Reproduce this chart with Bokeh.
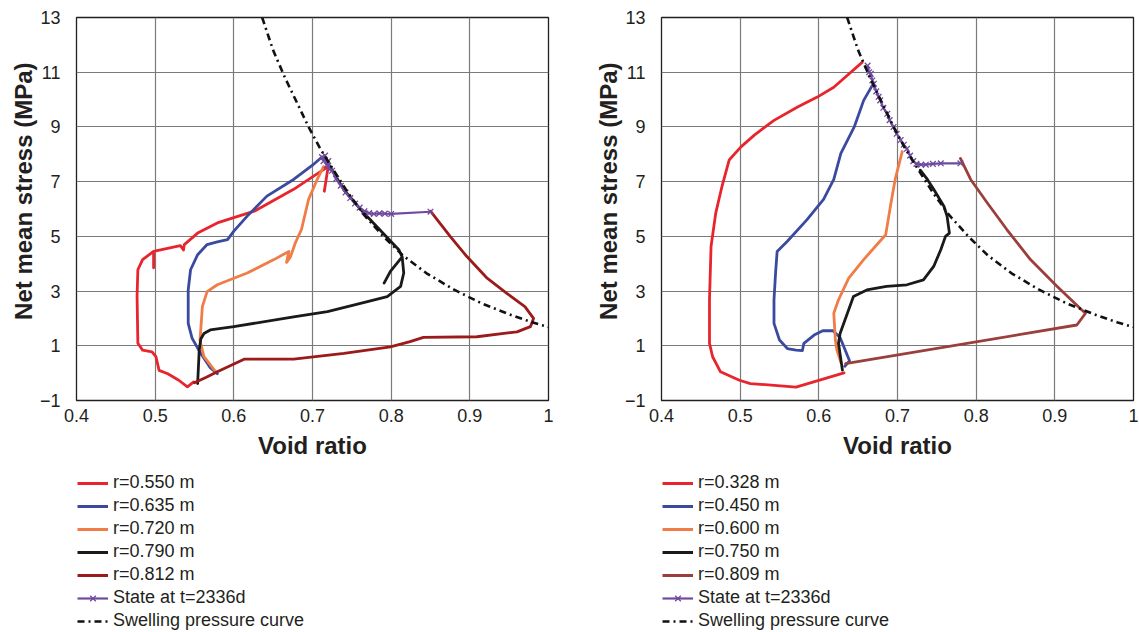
from bokeh.plotting import figure
from bokeh.layouts import row, column
from bokeh.models import Legend, LegendItem, Range1d, Title
from bokeh.embed import file_html
from bokeh.resources import INLINE

FONT = "Liberation Sans"
TXT = "#231f20"
NAN = float("nan")

# ---- axes ----
X_TICKS = [0.4, 0.5, 0.6, 0.7, 0.8, 0.9, 1.0]
X_TICK_LABELS = ["0.4", "0.5", "0.6", "0.7", "0.8", "0.9", "1"]
Y_TICKS = [-1, 1, 3, 5, 7, 9, 11, 13]
Y_TICK_LABELS = ["\u22121", "1", "3", "5", "7", "9", "11", "13"]
X_LABEL = "Void ratio"
Y_LABEL = "Net mean stress (MPa)"

# ---- swelling pressure curve (shared) ----
SW_E = [0.636, 0.650, 0.665, 0.680, 0.695, 0.710, 0.725, 0.745, 0.765, 0.790,
        0.815, 0.845, 0.880, 0.915, 0.950, 0.980, 1.010]
SW_P = [13.0, 11.8, 10.8, 9.9, 9.0, 8.2, 7.5, 6.6, 5.8, 5.0,
        4.3, 3.65, 3.05, 2.55, 2.15, 1.85, 1.6]

# ---- left panel ----
L_LABELS = ["r=0.550 m", "r=0.635 m", "r=0.720 m", "r=0.790 m", "r=0.812 m"]
L_COLORS = ["#e8252d", "#3a4a9f", "#f07d47", "#1a1a1a", "#9b1a1a"]

L_R550_E = [0.549, 0.541, 0.530, 0.516, 0.505, 0.501, 0.496, 0.484, 0.478, 0.477, 0.478, 0.484,
            0.498, 0.498, 0.498, 0.532, 0.536, 0.537, 0.554, 0.579, 0.626, 0.676, 0.712, 0.720,
            0.718, 0.715]
L_R550_P = [-0.32, -0.50, -0.26, -0.02, 0.10, 0.60, 0.78, 0.84, 1.09, 2.80, 3.78, 4.15,
            4.45, 3.85, 4.45, 4.66, 4.50, 4.70, 5.12, 5.49, 5.92, 6.72, 7.40, 7.55,
            7.20, 6.65]

L_R635_E = [0.579, 0.570, 0.558, 0.547, 0.542, 0.542, 0.545, 0.554, 0.566, 0.579, 0.592, 0.600,
            0.617, 0.642, 0.676, 0.700, 0.712]
L_R635_P = [-0.02, 0.20, 0.72, 1.27, 1.82, 3.04, 3.78, 4.33, 4.70, 4.80, 4.88, 5.19,
            5.74, 6.47, 7.08, 7.60, 7.90]

L_R720_E = [0.577, 0.562, 0.557, 0.560, 0.566, 0.579, 0.617, 0.651, 0.670, 0.667, 0.672, 0.678,
            0.686, 0.695, 0.706, 0.714]
L_R720_P = [0.05, 0.60, 1.20, 2.43, 2.98, 3.23, 3.66, 4.15, 4.45, 4.05, 4.25, 4.75,
            5.25, 6.35, 7.08, 7.55]

L_R790_E = [0.718, 0.740, 0.765, 0.810, 0.814, 0.799, 0.791, 0.799, 0.814, 0.816, 0.812, 0.795,
            0.761, 0.719, 0.676, 0.600, 0.570, 0.562, 0.558, 0.556, 0.554]
L_R790_P = [7.75, 6.70, 5.86, 4.50, 4.25, 3.72, 3.29, 3.72, 4.25, 3.66, 3.17, 2.80,
            2.55, 2.25, 2.06, 1.70, 1.58, 1.45, 1.25, 0.84, -0.38]

L_R812_E = [0.550, 0.565, 0.579, 0.613, 0.676, 0.740, 0.799, 0.824, 0.841, 0.909, 0.960, 0.977,
            0.981, 0.970, 0.947, 0.922, 0.896, 0.875, 0.850]
L_R812_P = [-0.35, -0.15, 0.05, 0.51, 0.51, 0.72, 0.96, 1.15, 1.31, 1.33, 1.51, 1.70,
            2.00, 2.43, 2.92, 3.47, 4.27, 5.00, 5.92]

L_STATE_E = [0.712, 0.714, 0.716, 0.718, 0.720, 0.722, 0.725, 0.730, 0.736, 0.742, 0.748, 0.754,
             0.760, 0.766, 0.772, 0.778, 0.785, 0.792, 0.800, 0.850]
L_STATE_P = [7.90, 7.75, 7.95, 7.60, 7.75, 7.45, 7.40, 7.10, 6.85, 6.60, 6.40, 6.20,
             6.05, 5.92, 5.85, 5.82, 5.84, 5.83, 5.82, 5.90]

# ---- right panel ----
R_LABELS = ["r=0.328 m", "r=0.450 m", "r=0.600 m", "r=0.750 m", "r=0.809 m"]
R_COLORS = ["#e8252d", "#3a4a9f", "#f07d47", "#1a1a1a", "#9a3f3b"]

R_R328_E = [0.632, 0.571, 0.513, 0.499, 0.475, 0.465, 0.461, 0.461, 0.463, 0.469, 0.477, 0.486,
            0.501, 0.518, 0.543, 0.573, 0.598, 0.619, 0.636, 0.655]
R_R328_P = [0.01, -0.51, -0.38, -0.26, 0.05, 0.60, 1.09, 2.68, 4.64, 5.86, 6.84, 7.79,
            8.27, 8.70, 9.24, 9.73, 10.09, 10.45, 10.88, 11.36]

R_R450_E = [0.633, 0.639, 0.627, 0.618, 0.605, 0.594, 0.581, 0.579, 0.571, 0.560, 0.550, 0.543,
            0.543, 0.545, 0.547, 0.560, 0.585, 0.606, 0.619, 0.628, 0.645, 0.657, 0.668]
R_R450_P = [0.25, 0.45, 1.30, 1.55, 1.55, 1.39, 1.09, 0.82, 0.84, 0.90, 1.21, 1.82,
            2.68, 3.66, 4.45, 4.82, 5.61, 6.35, 7.08, 8.03, 9.00, 9.97, 10.52]

R_R600_E = [0.628, 0.623, 0.621, 0.619, 0.625, 0.638, 0.657, 0.672, 0.685, 0.691, 0.697, 0.706]
R_R600_P = [0.40, 0.84, 1.21, 2.19, 2.68, 3.47, 4.15, 4.64, 5.06, 6.10, 7.08, 8.10]

R_R750_E = [0.630, 0.625, 0.627, 0.644, 0.661, 0.686, 0.712, 0.733, 0.746, 0.755, 0.761, 0.766,
            0.763, 0.759, 0.746, 0.738, 0.729]
R_R750_P = [0.11, 1.09, 1.45, 2.80, 3.04, 3.17, 3.23, 3.41, 3.90, 4.51, 5.00, 5.12,
            5.74, 6.10, 6.72, 7.08, 7.42]

R_R809_E = [0.634, 0.928, 0.939, 0.932, 0.903, 0.869, 0.839, 0.814, 0.793, 0.780]
R_R809_P = [0.35, 1.76, 2.19, 2.37, 3.17, 4.15, 5.25, 6.23, 7.08, 7.85]

R_STATE_E = [0.662, 0.664, 0.666, 0.668, 0.670, 0.673, 0.676, 0.678, 0.682, 0.687, 0.690, 0.695,
             0.699, 0.704, 0.708, 0.712, 0.716, 0.720, 0.724, 0.730, 0.736, 0.745, 0.755, 0.780]
R_STATE_P = [11.24, 11.00, 10.94, 10.70, 10.58, 10.30, 10.10, 9.97, 9.70, 9.48, 9.25, 9.00,
             8.75, 8.52, 8.35, 8.20, 7.95, 7.75, 7.65, 7.62, 7.62, 7.65, 7.67, 7.67]

STATE_LABEL = "State at t=2336d"
SWELL_LABEL = "Swelling pressure curve"
STATE_COLOR = "#6f4a9e"
SWELL_COLOR = "#111111"
SWELL_DASH = "7 4 2 4"

PLOT_H = 466
LEG_H = 632 - PLOT_H


def build(curves, colors, st_e, st_p, width, border_right):
    p = figure(width=width, height=PLOT_H, x_range=(0.4, 1.0), y_range=(-1, 13),
               output_backend="svg", toolbar_location=None,
               min_border_left=76, min_border_right=border_right,
               min_border_top=17, min_border_bottom=PLOT_H - 400)
    p.background_fill_color = "white"
    p.border_fill_color = "white"
    p.outline_line_color = TXT
    p.outline_line_width = 1.3

    p.xaxis.ticker = X_TICKS
    p.xaxis.major_label_overrides = dict(zip(X_TICKS, X_TICK_LABELS))
    p.yaxis.ticker = Y_TICKS
    p.yaxis.major_label_overrides = dict(zip(Y_TICKS, Y_TICK_LABELS))
    for ax in (p.xaxis[0], p.yaxis[0]):
        ax.axis_line_color = None
        ax.major_tick_line_color = None
        ax.minor_tick_line_color = None
        ax.major_label_text_font = FONT
        ax.major_label_text_font_size = "18px"
        ax.major_label_text_color = TXT
        ax.axis_label_text_font = FONT
        ax.axis_label_text_font_size = "24px"
        ax.axis_label_text_font_style = "bold"
        ax.axis_label_text_color = TXT
    p.xaxis.axis_label = X_LABEL
    p.xaxis.major_label_standoff = 2
    p.xaxis.axis_label_standoff = 7
    p.yaxis.major_label_standoff = 10
    ytitle = Title(text=Y_LABEL, align="right", offset=45, standoff=0,
                   text_font=FONT, text_font_size="24px", text_font_style="bold",
                   text_color=TXT)
    p.add_layout(ytitle, "left")
    for g in (p.xgrid[0], p.ygrid[0]):
        g.grid_line_color = "#7a7a7a"
        g.grid_line_width = 1.2

    for (e, s), col in zip(curves, colors):
        p.line(e, s, line_color=col, line_width=2.8, line_join="round", line_cap="round")
    p.line(st_e, st_p, line_color=STATE_COLOR, line_width=2.2)
    p.scatter(st_e, st_p, marker="x", size=8, line_color=STATE_COLOR, line_width=1.3)
    p.line(SW_E, SW_P, line_color=SWELL_COLOR, line_width=2.6, line_dash=SWELL_DASH)
    return p


def legend_fig(labels, colors, width):
    f = figure(width=width, height=LEG_H, x_range=Range1d(0, 1), y_range=Range1d(0, 1),
               output_backend="svg", toolbar_location=None,
               x_axis_type=None, y_axis_type=None,
               min_border=0, min_border_left=0, min_border_right=0,
               min_border_top=0, min_border_bottom=0)
    f.outline_line_color = None
    f.xgrid.visible = False
    f.ygrid.visible = False
    items = []
    for lab, col in zip(labels, colors):
        r = f.line([NAN], [NAN], line_color=col, line_width=3)
        items.append(LegendItem(label=lab, renderers=[r]))
    sl = f.line([NAN], [NAN], line_color=STATE_COLOR, line_width=2.2)
    ss = f.scatter([NAN], [NAN], marker="x", size=8, line_color=STATE_COLOR, line_width=1.3)
    items.append(LegendItem(label=STATE_LABEL, renderers=[sl, ss]))
    sw = f.line([NAN], [NAN], line_color=SWELL_COLOR, line_width=2.6, line_dash=SWELL_DASH)
    items.append(LegendItem(label=SWELL_LABEL, renderers=[sw]))
    leg = Legend(items=items, orientation="vertical",
                 label_text_font=FONT, label_text_font_size="18px", label_text_color=TXT,
                 glyph_width=31, glyph_height=20, label_height=20, label_standoff=5, spacing=2,
                 padding=0, margin=0, border_line_color=None, background_fill_alpha=0)
    leg.location = (77, 1)
    f.add_layout(leg)
    return f


left = build([(L_R550_E, L_R550_P), (L_R635_E, L_R635_P), (L_R720_E, L_R720_P),
              (L_R790_E, L_R790_P), (L_R812_E, L_R812_P)],
             L_COLORS, L_STATE_E, L_STATE_P, 585, 37)
right = build([(R_R328_E, R_R328_P), (R_R450_E, R_R450_P), (R_R600_E, R_R600_P),
               (R_R750_E, R_R750_P), (R_R809_E, R_R809_P)],
              R_COLORS, R_STATE_E, R_STATE_P, 554, 6)
lleg = legend_fig(L_LABELS, L_COLORS, 585)
rleg = legend_fig(R_LABELS, R_COLORS, 554)

layout = column(row(left, right, spacing=0), row(lleg, rleg, spacing=0), spacing=0)
open("out.html", "w").write(file_html(layout, INLINE))
